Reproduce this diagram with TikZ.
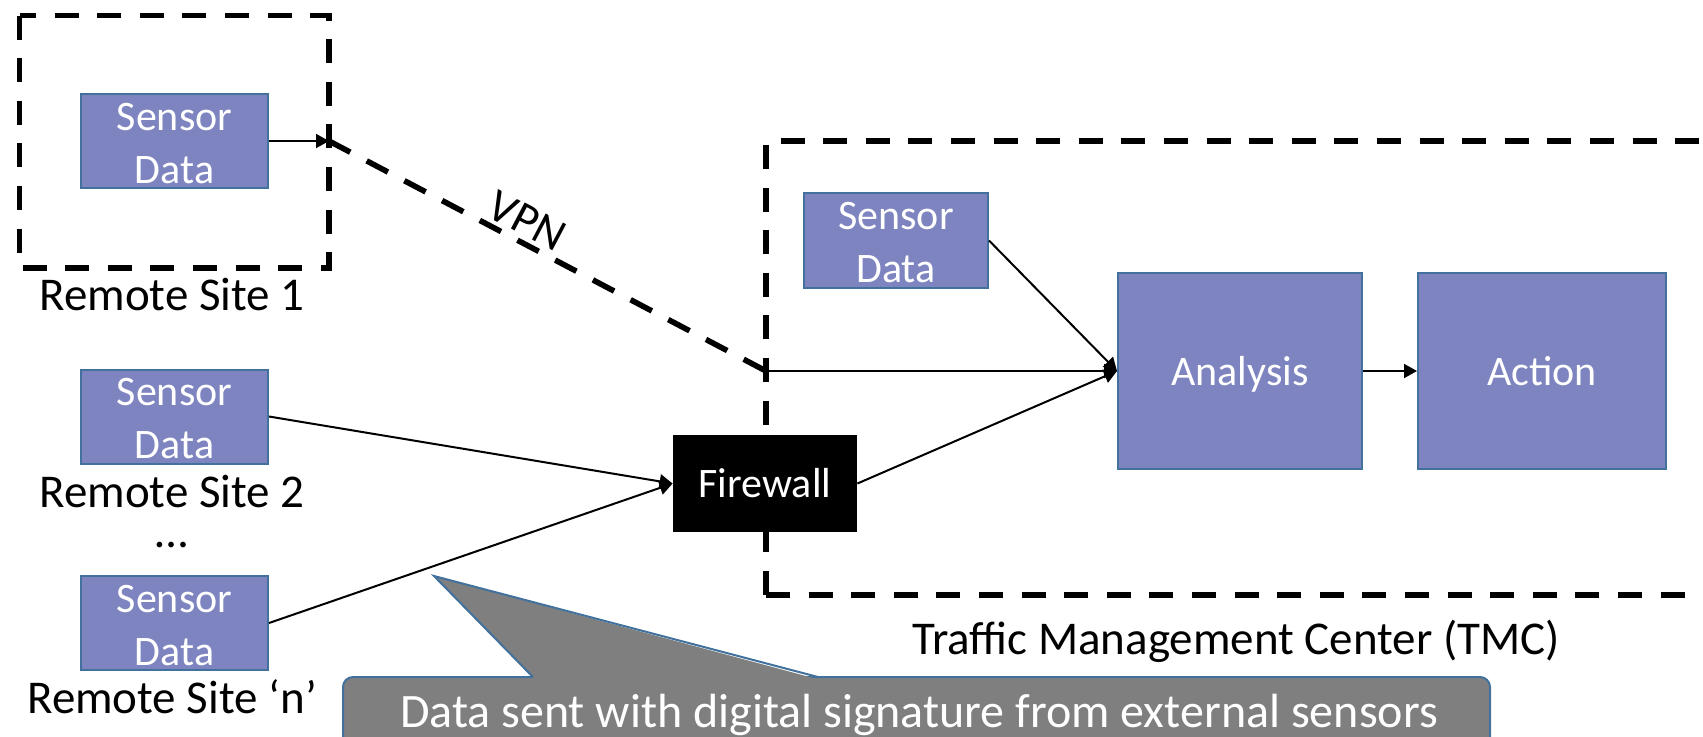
\documentclass[tikz,border=0pt]{standalone}
\usepackage{fontspec}
\setmainfont{Carlito}
\usetikzlibrary{arrows.meta}
\definecolor{boxfill}{RGB}{126,132,192}
\definecolor{boxline}{RGB}{65,113,156}
\definecolor{callgray}{RGB}{127,127,127}
\newcommand{\sdtext}{\rule{0pt}{16pt}Sensor\\Data}
\begin{document}
\begin{tikzpicture}[x=0.5pt,y=-0.5pt,
  sensorbox/.style={draw=boxline, line width=1pt, fill=boxfill, text=white, minimum width=93.5pt, minimum height=47pt, inner sep=0pt, align=center, font=\fontsize{21}{26.5}\selectfont},
  bigbox/.style={draw=boxline, line width=1pt, fill=boxfill, text=white, minimum width=122pt, minimum height=98pt, inner sep=0pt, font=\fontsize{21}{25}\selectfont},
  fwbox/.style={fill=black, text=white, minimum width=92pt, minimum height=48.5pt, inner sep=0pt, font=\fontsize{21}{25}\selectfont},
  zone/.style={line width=2.8pt, dash pattern=on 12pt off 9.3pt},
  flow/.style={line width=1pt, -{Triangle[length=6.5pt,width=7pt]}},
  lbl/.style={font=\fontsize{23.5}{28}\selectfont, anchor=base, inner sep=0pt},
]
\useasboundingbox (0,0) rectangle (1703,736);
\fill[white] (0,0) rectangle (1703,736);
\clip (0,0) rectangle (1703,736);

% zones
\draw[zone] (19.5,15.5) rectangle (329,268);
\draw[zone] (766,595) -- (766,141) -- (1760,141);
\draw[zone] (766,595) -- (1760,595);

\coordinate (rs1edge) at (329,141);
\coordinate (vpnend) at (766,371);

% nodes
\node[sensorbox] (s1) at (174.5,141) {\sdtext};
\node[sensorbox] (s2) at (174.5,416.5) {\sdtext};
\node[sensorbox] (sn) at (174.5,623) {\sdtext};
\node[sensorbox, minimum width=92pt, minimum height=47.5pt] (s3) at (896,240.5) {\sdtext};
\node[bigbox, text depth=-1.5pt] (ana) at (1240,371) {Analysis};
\node[bigbox, minimum width=124pt] (act) at (1542,371) {Action};
\node[fwbox] (fw) at (765,483.5) {Firewall};

\node[lbl] (rs1) at (172,310) {Remote Site 1};
\node[lbl] (rs2) at (172,507) {Remote Site 2};
\node[lbl] (dots) at (172,547) {…};
\node[lbl] (rsn) at (172,713) {Remote Site ‘n’};
\node[lbl] (tmc) at (1236,654) {Traffic Management Center (TMC)};

% connectors
\draw[flow] (s1.east) -- (rs1edge);
\draw[zone] (rs1edge) -- node[pos=0.43, sloped, anchor=base, yshift=3.5pt, inner sep=0pt, font=\fontsize{23}{27}\selectfont] (vpn) {VPN} (vpnend);
\draw[flow] (vpnend) -- (ana.west);
\draw[flow] (s3.east) -- (ana.west);
\draw[flow] (fw.east) -- (ana.west);
\draw[flow] (s2.east) -- (fw.west);
\draw[flow] (sn.east) -- (fw.west);
\draw[flow] (ana.east) -- (act.west);

% callout
\draw[draw=boxline, fill=callgray, line width=1pt, rounded corners=5pt] (343,677) rectangle (1490,790);
\fill[callgray] (534,679) -- (434,576) -- (817,679) -- cycle;
\draw[boxline, line width=1pt] (533,677) -- (434,576) -- (818,677);
\node[font=\fontsize{24}{28}\selectfont, text=white, anchor=base, inner sep=0pt] (ct) at (919,727) {Data sent with digital signature from external sensors};
\end{tikzpicture}
\end{document}
